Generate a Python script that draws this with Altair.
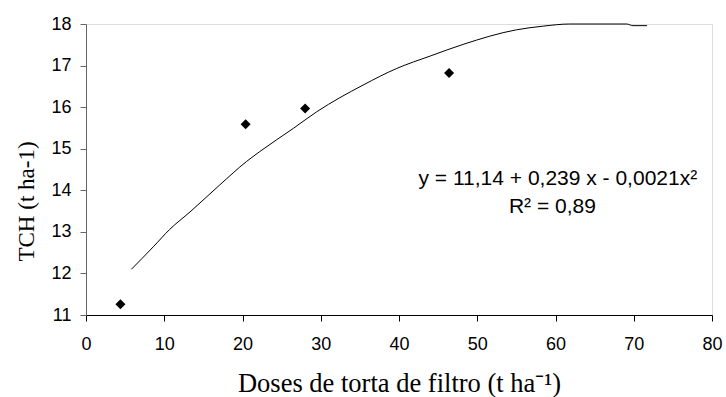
import altair as alt
import pandas as pd

# observed data points
dose = [4.4, 20.4, 28.0, 46.4]
tch = [11.26, 15.59, 15.97, 16.82]

# fitted curve as drawn
curve_x = [5.8, 8.6, 10.7, 13.3, 17.1, 20.5, 22.2, 26.5, 29.5, 35.4, 39.7,
           44.0, 48.2, 55.0, 58.5, 61.8, 69.1, 69.9, 71.7]
curve_y = [12.10, 12.64, 13.06, 13.48, 14.13, 14.69, 14.93, 15.49, 15.89, 16.53, 16.93,
           17.23, 17.51, 17.86, 17.95, 18.00, 18.00, 17.96, 17.96]

eq_text = "y = 11,14 + 0,239 x - 0,0021x²"
r2_text = "R² = 0,89"

pts = pd.DataFrame({"x": dose, "y": tch})
crv = pd.DataFrame({"x": curve_x, "y": curve_y})

xscale = alt.Scale(domain=[0, 80], nice=False, zero=False)
yscale = alt.Scale(domain=[11, 18], nice=False, zero=False)

xaxis = alt.Axis(
    values=[0, 10, 20, 30, 40, 50, 60, 70, 80],
    title="Doses de torta de filtro (t ha⁻¹)",
    titleFont="Liberation Serif", titleFontSize=26.5, titleFontWeight="normal",
    titleColor="#000", titleX=313, titleY=76, titleBaseline="alphabetic",
    titleAlign="center",
    labelFont="Liberation Sans", labelFontSize=18, labelColor="#000",
    labelPadding=14, tickSize=6, tickColor="#000", domainColor="#000",
    grid=False, labelFlush=False,
)
yaxis = alt.Axis(
    values=[11, 12, 13, 14, 15, 16, 17, 18],
    title="TCH (t ha-1)",
    titleFont="Liberation Serif", titleFontSize=23, titleFontWeight="normal",
    titleColor="#000", titleX=-60, titleY=177, titleAngle=270,
    titleAlign="center", titleBaseline="middle",
    labelFont="Liberation Sans", labelFontSize=18, labelColor="#000",
    labelPadding=9, tickSize=6, tickColor="#666", domainColor="#666",
    grid=False, labelFlush=False,
)

base_x = alt.X("x:Q", scale=xscale, axis=xaxis)
base_y = alt.Y("y:Q", scale=yscale, axis=yaxis)

line = alt.Chart(crv).mark_line(color="#000", strokeWidth=1, interpolate="monotone").encode(x=base_x, y=base_y)
points = alt.Chart(pts).mark_point(shape="diamond", filled=True, color="#000",
                                   size=100, opacity=1).encode(x=base_x, y=base_y)

eq = alt.Chart(pts).mark_text(font="Liberation Sans", fontSize=21, color="#000",
                              align="center", baseline="alphabetic", text=eq_text).encode(
    x=alt.datum(60.3), y=alt.datum(14.13))
r2 = alt.Chart(pts).mark_text(font="Liberation Sans", fontSize=21, color="#000",
                              align="center", baseline="alphabetic", text=r2_text).encode(
    x=alt.datum(59.6), y=alt.datum(13.45))

chart = alt.layer(line, points, eq.transform_filter("datum.x < 5"), r2.transform_filter("datum.x < 5")).properties(
    width=626, height=291,
    padding={"left": 86, "top": 24, "right": 14, "bottom": 82},
    autosize=alt.AutoSizeParams(type="none"),
).configure_view(stroke=None).configure(background="white")

chart.save("out.html", embed_options={"renderer": "svg", "actions": False})
